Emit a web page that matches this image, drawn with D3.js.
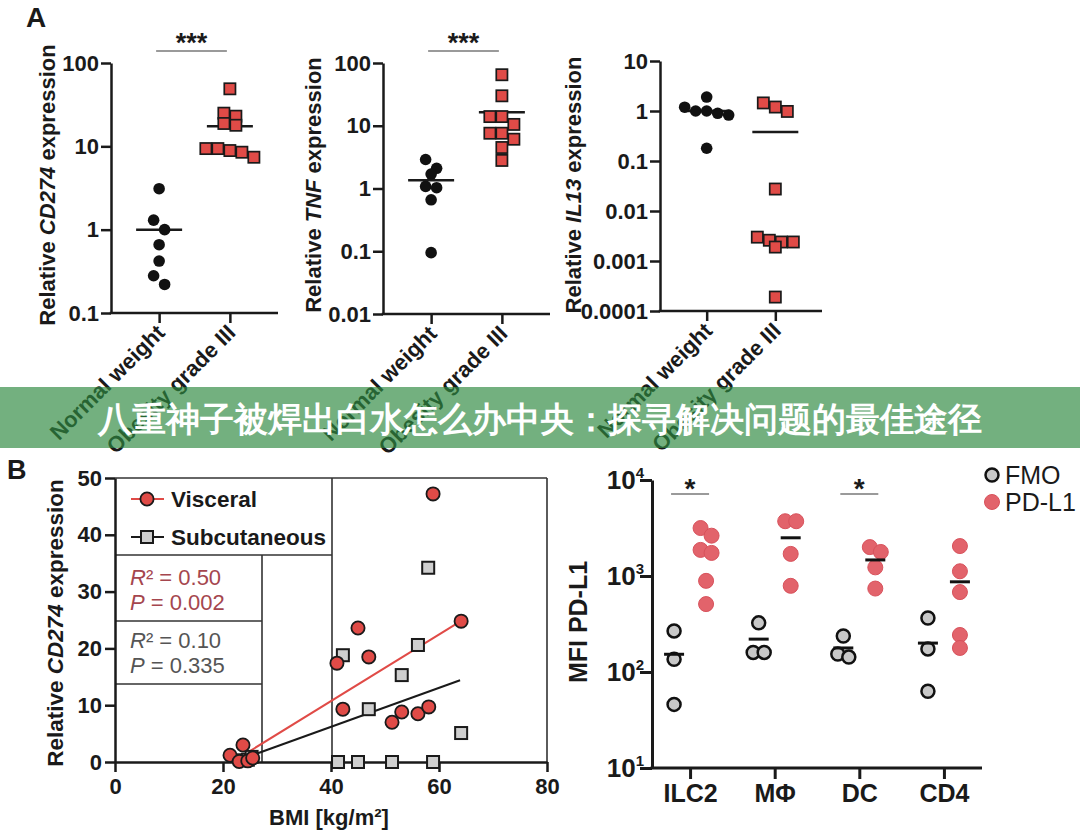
<!DOCTYPE html>
<html><head><meta charset="utf-8">
<script src="https://cdn.jsdelivr.net/npm/d3@7"></script>
<style>
body{margin:0;background:#fff}
svg{display:block}
text{font-family:"Liberation Sans",Arial,Helvetica,sans-serif}
</style></head>
<body><svg id="c" width="1080" height="837"></svg>
<script>
// ---------------- DATA ----------------
const groupCats = ["Normal weight", "Obesity grade III"];

const cd274Normal = [3.1, 1.3, 1.0, 0.66, 0.42, 0.28, 0.22];
const cd274Obese  = [49, 25, 23, 18.8, 17.9, 9.4, 9.4, 8.9, 8.5, 7.4];
const cd274Center = [1.0, 17.4];
const cd274Ticks  = [0.1, 1, 10, 100];
const cd274TickLabels = ["0.1", "1", "10", "100"];

const tnfNormal = [2.9, 2.1, 1.7, 1.08, 1.03, 0.66, 0.095];
const tnfObese  = [65, 30, 14, 14, 10.5, 7.6, 7.6, 6.1, 4.5, 2.8];
const tnfCenter = [1.35, 16.4];
const tnfTicks  = [0.01, 0.1, 1, 10, 100];
const tnfTickLabels = ["0.01", "0.1", "1", "10", "100"];

const il13Normal = [1.9, 1.19, 1.0, 1.0, 0.9, 0.83, 0.18];
const il13Obese  = [1.45, 1.2, 0.98, 0.0275, 0.003, 0.0026, 0.0024, 0.0024, 0.0019, 0.00019];
const il13Center = [1.0, 0.38];
const il13Ticks  = [0.0001, 0.001, 0.01, 0.1, 1, 10];
const il13TickLabels = ["0.0001", "0.001", "0.01", "0.1", "1", "10"];

// Panel B
const visceralBMI  = [21.3, 23.0, 23.7, 24.6, 25.5, 41.1, 42.2, 45.0, 47.0, 51.3, 53.1, 56.1, 58.1, 58.9, 64.1];
const visceralExpr = [1.2, 0.1, 3.0, 0.2, 0.7, 17.4, 9.3, 23.6, 18.5, 7.0, 8.8, 8.5, 9.7, 47.2, 24.8];
const subcutBMI    = [23.5, 24.6, 25.3, 41.3, 42.2, 45.0, 47.0, 51.3, 53.1, 56.1, 58.0, 58.9, 64.1];
const subcutExpr   = [0.3, 0.4, 0.9, 0.0, 18.8, 0.0, 9.3, 0.0, 15.3, 20.6, 34.2, 0.0, 5.1];
const visceralFitX = [24.6, 63.5];
const visceralFitY = [1.7, 24.5];
const subcutFitX   = [24.6, 63.9];
const subcutFitY   = [0.9, 14.4];
const bmiTicks  = [0, 20, 40, 60, 80];
const exprTicks = [0, 10, 20, 30, 40, 50];
const statsVisceral = ["0.50", "0.002"];
const statsSubcut   = ["0.10", "0.335"];

// Panel C
const cellCats = ["ILC2", "MΦ", "DC", "CD4"];
const stainCats = ["FMO", "PD-L1"];
const fmoValues = [[268, 136, 46], [325, 160, 160], [237, 154, 143], [365, 174, 63]];
const pdl1Values = [[3160, 2630, 1870, 1740, 890, 510], [3720, 3720, 1700, 790], [2000, 1780, 1230, 740], [2050, 1120, 680, 243, 178]];
const fmoCenter  = [153, 220, 178, 200];
const pdl1Center = [null, 2500, 1470, 870];
const mfiTicks = [10, 100, 1000, 10000];
const mfiTickExp = ["1", "2", "3", "4"];
const sigCells = ["ILC2", "DC"];

// ---------------- DRAWING ----------------
const svg = d3.select("#c");
const RED = "#e04b47";
const DARK = "#1a1a1a";

function rowLayout(vals, y, step, thr) {
  const pts = vals.map(v => ({v, py: y(v)})).sort((a, b) => a.py - b.py);
  const rows = []; let cur = null;
  pts.forEach(p => {
    if (cur && p.py - cur[0].py < thr) cur.push(p);
    else { cur = [p]; rows.push(cur); }
  });
  rows.forEach(r => r.forEach((p, i) => p.dx = (i - (r.length - 1) / 2) * step));
  return pts;
}

function styleAxis(g, w) {
  g.selectAll("path.domain").attr("stroke", DARK).attr("stroke-width", w);
  g.selectAll(".tick line").attr("stroke", DARK).attr("stroke-width", w);
}

function panelA(o) {
  const y = d3.scaleLog().domain(o.domain).range([o.yBot, o.yTop]);
  const x = d3.scalePoint().domain(groupCats).range([o.axisX, o.endX]).padding(0.68);
  const g = svg.append("g");
  const ya = g.append("g").attr("transform", `translate(${o.axisX},0)`)
    .call(d3.axisLeft(y).tickValues(o.ticks).tickFormat((d, i) => o.labels[i]).tickSize(10).tickSizeOuter(0).tickPadding(2));
  ya.selectAll("text").attr("font-size", 22).attr("font-weight", "bold").attr("fill", DARK);
  styleAxis(ya, 2.5);
  const xa = g.append("g").attr("transform", `translate(0,${o.yBot})`)
    .call(d3.axisBottom(x).tickSize(10).tickSizeOuter(0).tickFormat(""));
  styleAxis(xa, 2.5);
  xa.select("path.domain").attr("d", `M${o.axisX - 1.25},0H${o.endX}`);
  groupCats.forEach(c => {
    g.append("text").attr("transform", `translate(${x(c) + 7},${o.yBot + 21}) rotate(-45)`)
      .attr("text-anchor", "end").attr("font-size", 22).attr("font-weight", "bold").attr("fill", DARK).text(c);
  });
  const t = g.append("text").attr("transform", `translate(${o.labelX},185) rotate(-90)`)
    .attr("text-anchor", "middle").attr("font-size", 22).attr("font-weight", "bold").attr("fill", DARK);
  t.append("tspan").text("Relative ");
  t.append("tspan").attr("font-style", "italic").text(o.gene);
  t.append("tspan").text(" expression");
  o.center.forEach((v, i) => {
    if (v == null) return;
    const cx = x(groupCats[i]);
    g.append("line").attr("x1", cx - 23).attr("x2", cx + 23).attr("y1", y(v)).attr("y2", y(v))
      .attr("stroke", DARK).attr("stroke-width", 2.5);
  });
  const n = rowLayout(o.normal, y, 11, 9.9);
  g.selectAll(null).data(n).enter().append("circle")
    .attr("cx", d => x(groupCats[0]) + d.dx).attr("cy", d => d.py).attr("r", 5.8).attr("fill", "#111");
  const s = rowLayout(o.obese, y, 12, 9.9);
  g.selectAll(null).data(s).enter().append("rect")
    .attr("x", d => x(groupCats[1]) + d.dx - 5.6).attr("y", d => d.py - 5.6).attr("width", 11.2).attr("height", 11.2)
    .attr("fill", RED).attr("stroke", DARK).attr("stroke-width", 1.7);
  if (o.sig) {
    const x1 = x(groupCats[0]) - 3, x2 = x(groupCats[1]) - 3;
    g.append("line").attr("x1", x1).attr("x2", x2).attr("y1", 51).attr("y2", 51).attr("stroke", "#9a9a9a").attr("stroke-width", 2);
    g.append("text").attr("x", (x1 + x2) / 2).attr("y", 52).attr("text-anchor", "middle")
      .attr("font-size", 27).attr("font-weight", "bold").attr("fill", DARK).text(o.sig);
  }
}

panelA({axisX: 111, endX: 278, yTop: 63, yBot: 313, domain: [0.1, 100], ticks: cd274Ticks, labels: cd274TickLabels,
  normal: cd274Normal, obese: cd274Obese, center: cd274Center, gene: "CD274", labelX: 55, sig: "***"});
panelA({axisX: 383, endX: 550, yTop: 63, yBot: 314, domain: [0.01, 100], ticks: tnfTicks, labels: tnfTickLabels,
  normal: tnfNormal, obese: tnfObese, center: tnfCenter, gene: "TNF", labelX: 321, sig: "***"});
panelA({axisX: 660, endX: 822, yTop: 61, yBot: 311, domain: [0.0001, 10], ticks: il13Ticks, labels: il13TickLabels,
  normal: il13Normal, obese: il13Obese, center: il13Center, gene: "IL13", labelX: 581, sig: null});

svg.append("text").attr("x", 26).attr("y", 27).attr("font-size", 28).attr("font-weight", "bold").attr("fill", DARK).text("A");
svg.append("text").attr("x", 7).attr("y", 479).attr("font-size", 27).attr("font-weight", "bold").attr("fill", DARK).text("B");

// ---------------- Panel B ----------------
(function () {
  const x = d3.scaleLinear().domain([0, 80]).range([115, 547]);
  const y = d3.scaleLinear().domain([0, 50]).range([762, 478]);
  const g = svg.append("g");
  const boxLines = [[115, 478, 547, 478], [547, 478, 547, 762], [332, 478, 332, 762], [115, 555, 332, 555],
    [262, 555, 262, 762], [115, 621, 262, 621], [115, 684, 262, 684]];
  boxLines.forEach(l => g.append("line").attr("x1", l[0]).attr("y1", l[1]).attr("x2", l[2]).attr("y2", l[3])
    .attr("stroke", "#333").attr("stroke-width", 1.6));
  const ya = g.append("g").attr("transform", "translate(115,0)")
    .call(d3.axisLeft(y).tickValues(exprTicks).tickSize(10).tickSizeOuter(0).tickPadding(3));
  ya.selectAll("text").attr("font-size", 22).attr("font-weight", "bold").attr("fill", DARK);
  styleAxis(ya, 2.5);
  const xa = g.append("g").attr("transform", "translate(0,762)")
    .call(d3.axisBottom(x).tickValues(bmiTicks).tickSize(10).tickSizeOuter(0).tickPadding(6));
  xa.selectAll("text").attr("font-size", 22).attr("font-weight", "bold").attr("fill", DARK);
  styleAxis(xa, 2.5);
  const t = g.append("text").attr("transform", "translate(63,623) rotate(-90)")
    .attr("text-anchor", "middle").attr("font-size", 22.5).attr("font-weight", "bold").attr("fill", DARK);
  t.append("tspan").text("Relative ");
  t.append("tspan").attr("font-style", "italic").text("CD274");
  t.append("tspan").text(" expression");
  g.append("text").attr("x", 329).attr("y", 825).attr("text-anchor", "middle").attr("font-size", 22)
    .attr("font-weight", "bold").attr("fill", DARK).text("BMI [kg/m²]");
  g.append("line").attr("x1", x(visceralFitX[0])).attr("y1", y(visceralFitY[0])).attr("x2", x(visceralFitX[1])).attr("y2", y(visceralFitY[1]))
    .attr("stroke", RED).attr("stroke-width", 2);
  g.append("line").attr("x1", x(subcutFitX[0])).attr("y1", y(subcutFitY[0])).attr("x2", x(subcutFitX[1])).attr("y2", y(subcutFitY[1]))
    .attr("stroke", DARK).attr("stroke-width", 2);
  g.selectAll(null).data(d3.zip(subcutBMI, subcutExpr)).enter().append("rect")
    .attr("x", d => x(d[0]) - 6).attr("y", d => y(d[1]) - 6).attr("width", 12).attr("height", 12)
    .attr("fill", "#cfcfcf").attr("stroke", DARK).attr("stroke-width", 2);
  g.selectAll(null).data(d3.zip(visceralBMI, visceralExpr)).enter().append("circle")
    .attr("cx", d => x(d[0])).attr("cy", d => y(d[1])).attr("r", 6.6)
    .attr("fill", RED).attr("stroke", DARK).attr("stroke-width", 1.8);
  g.append("line").attr("x1", 131).attr("x2", 164).attr("y1", 499).attr("y2", 499).attr("stroke", RED).attr("stroke-width", 2);
  g.append("circle").attr("cx", 147).attr("cy", 499).attr("r", 6.6).attr("fill", RED).attr("stroke", DARK).attr("stroke-width", 1.8);
  g.append("text").attr("x", 171).attr("y", 507).attr("font-size", 22.5).attr("font-weight", "bold").attr("fill", DARK).text("Visceral");
  g.append("line").attr("x1", 131).attr("x2", 164).attr("y1", 537).attr("y2", 537).attr("stroke", DARK).attr("stroke-width", 2);
  g.append("rect").attr("x", 141).attr("y", 531).attr("width", 12).attr("height", 12).attr("fill", "#cfcfcf").attr("stroke", DARK).attr("stroke-width", 2);
  g.append("text").attr("x", 171).attr("y", 545).attr("font-size", 22.5).attr("font-weight", "bold").attr("fill", DARK).text("Subcutaneous");
  function stat(vals, y0, color) {
    const a = g.append("text").attr("x", 130).attr("y", y0).attr("font-size", 22).attr("fill", color);
    a.append("tspan").attr("font-style", "italic").text("R");
    a.append("tspan").text("² = " + vals[0]);
    const b = g.append("text").attr("x", 130).attr("y", y0 + 25).attr("font-size", 22).attr("fill", color);
    b.append("tspan").attr("font-style", "italic").text("P");
    b.append("tspan").text(" = " + vals[1]);
  }
  stat(statsVisceral, 585, "#a5464e");
  stat(statsSubcut, 648, "#555");
})();

// ---------------- Panel C ----------------
(function () {
  const y = d3.scaleLog().domain([10, 10000]).range([768, 480]);
  const x = d3.scalePoint().domain(cellCats).range([652, 982]).padding(0.45);
  const sub = d3.scalePoint().domain(stainCats).range([-16, 16]);
  const g = svg.append("g");
  const ya = g.append("g").attr("transform", "translate(652,0)")
    .call(d3.axisLeft(y).tickValues(mfiTicks).tickSize(12).tickSizeOuter(0).tickFormat(""));
  styleAxis(ya, 3);
  mfiTicks.forEach((v, i) => {
    const t = g.append("text").attr("x", 644).attr("y", y(v) + 9).attr("text-anchor", "end")
      .attr("font-size", 26).attr("font-weight", "bold").attr("fill", DARK);
    t.append("tspan").text("10");
    t.append("tspan").attr("dy", -11).attr("font-size", 15).text(mfiTickExp[i]);
  });
  const xa = g.append("g").attr("transform", "translate(0,768)")
    .call(d3.axisBottom(x).tickSize(11).tickSizeOuter(0).tickPadding(5));
  styleAxis(xa, 3);
  xa.select("path.domain").attr("d", "M650.5,0H982");
  xa.selectAll("text").attr("font-size", 25).attr("font-weight", "bold").attr("fill", DARK);
  g.append("text").attr("transform", "translate(587,622) rotate(-90)").attr("text-anchor", "middle")
    .attr("font-size", 25).attr("font-weight", "bold").attr("fill", DARK).text("MFI PD-L1");
  cellCats.forEach((c, i) => {
    const fx = x(c) + sub("FMO"), px = x(c) + sub("PD-L1");
    const f = rowLayout(fmoValues[i], y, 11, 9.9);
    g.selectAll(null).data(f).enter().append("circle")
      .attr("cx", d => fx + d.dx).attr("cy", d => d.py).attr("r", 6.5)
      .attr("fill", "#c8c8c8").attr("stroke", "#111").attr("stroke-width", 2.5);
    const p = rowLayout(pdl1Values[i], y, 11, 9.9);
    g.selectAll(null).data(p).enter().append("circle")
      .attr("cx", d => px + d.dx).attr("cy", d => d.py).attr("r", 7.5)
      .attr("fill", "#e2636b").attr("stroke", "#d8525c").attr("stroke-width", 1);
    [[fmoCenter[i], fx], [pdl1Center[i], px]].forEach(([v, cx]) => {
      if (v == null) return;
      g.append("line").attr("x1", cx - 10).attr("x2", cx + 10).attr("y1", y(v)).attr("y2", y(v))
        .attr("stroke", "#111").attr("stroke-width", 3);
    });
  });
  sigCells.forEach(c => {
    const x1 = x(c) + sub("FMO") - 3, x2 = x(c) + sub("PD-L1") + 3;
    g.append("line").attr("x1", x1).attr("x2", x2).attr("y1", 494).attr("y2", 494).attr("stroke", "#9a9a9a").attr("stroke-width", 2);
    g.append("text").attr("x", (x1 + x2) / 2).attr("y", 498).attr("text-anchor", "middle")
      .attr("font-size", 28).attr("font-weight", "bold").attr("fill", DARK).text("*");
  });
  g.append("circle").attr("cx", 992).attr("cy", 475).attr("r", 6.5).attr("fill", "#c8c8c8").attr("stroke", "#111").attr("stroke-width", 2.5);
  g.append("text").attr("x", 1005).attr("y", 484).attr("font-size", 25).attr("fill", DARK).text("FMO");
  g.append("circle").attr("cx", 992).attr("cy", 502).attr("r", 7.5).attr("fill", "#e2636b").attr("stroke", "#d8525c");
  g.append("text").attr("x", 1005).attr("y", 511).attr("font-size", 25).attr("fill", DARK).text("PD-L1");
})();

// ---------------- Banner ----------------
svg.append("rect").attr("x", 0).attr("y", 387).attr("width", 1080).attr("height", 61)
  .attr("fill", "rgb(46,137,64)").attr("fill-opacity", 0.67);
svg.append("text").attr("x", 540).attr("y", 431).attr("text-anchor", "middle")
  .attr("font-family", '"Noto Sans CJK SC", sans-serif').attr("font-weight", 900).attr("font-size", 33.5)
  .attr("fill", "#fff").text("八重神子被焊出白水怎么办中央：探寻解决问题的最佳途径");
</script>
</body></html>
